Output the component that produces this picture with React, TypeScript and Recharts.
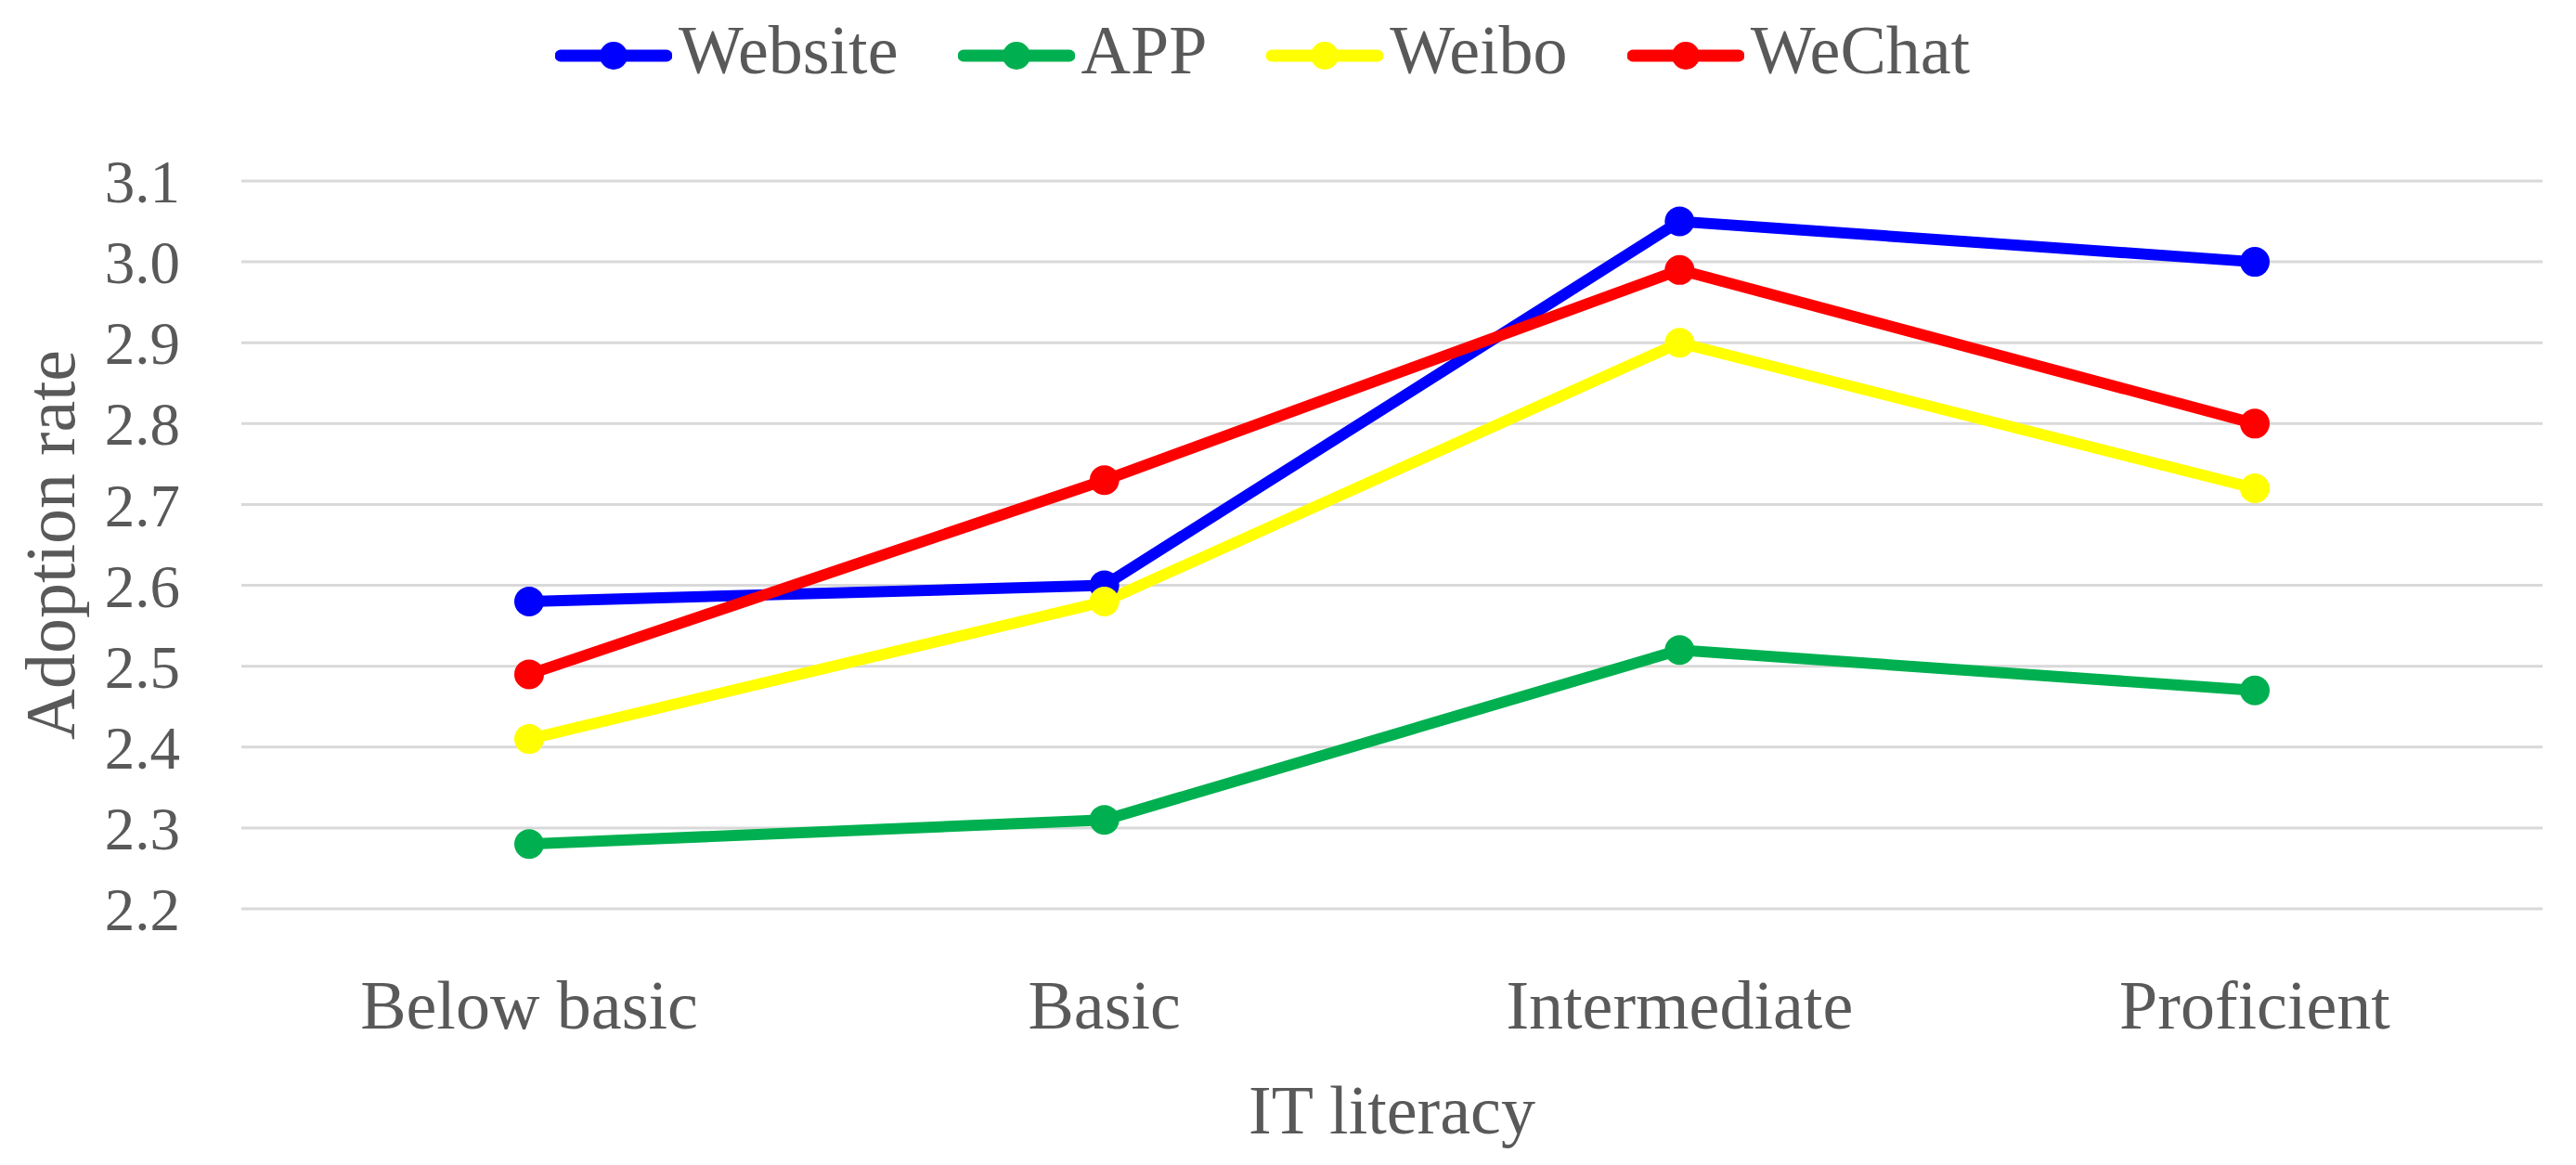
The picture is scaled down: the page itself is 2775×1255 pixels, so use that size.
import React from 'react';
import { LineChart, Line, XAxis, YAxis, CartesianGrid, Legend } from 'recharts';

const categories = ['Below basic', 'Basic', 'Intermediate', 'Proficient'];
const website = [2.58, 2.6, 3.05, 3.0];
const app = [2.28, 2.31, 2.52, 2.47];
const weibo = [2.41, 2.58, 2.9, 2.72];
const wechat = [2.49, 2.73, 2.99, 2.8];
const yTicks = [2.2, 2.3, 2.4, 2.5, 2.6, 2.7, 2.8, 2.9, 3.0, 3.1];

const seriesDefs = [
  { key: 'Website', color: '#0000FF', values: website },
  { key: 'APP', color: '#00B050', values: app },
  { key: 'Weibo', color: '#FFFF00', values: weibo },
  { key: 'WeChat', color: '#FF0000', values: wechat },
];

const data = categories.map((c, i) => {
  const row: Record<string, string | number> = { name: c };
  seriesDefs.forEach((s) => {
    row[s.key] = s.values[i];
  });
  return row;
});

const FONT = '"Liberation Serif", "Times New Roman", serif';
const TEXT = '#595959';

const LegendContent = (props: any) => {
  const payload = [...(props.payload || [])];
  const order = seriesDefs.map((s) => s.key);
  payload.sort((a: any, b: any) => order.indexOf(a.value) - order.indexOf(b.value));
  return (
    <div
      style={{
        display: 'flex',
        alignItems: 'center',
        height: 120,
        paddingLeft: 598,
        fontFamily: FONT,
        fontSize: 74,
        color: TEXT,
      }}
    >
      {payload.map((p: any, i: number) => (
        <div
          key={p.value}
          style={{ display: 'flex', alignItems: 'center', marginLeft: i === 0 ? 0 : 64 }}
        >
          <svg width={126} height={40} style={{ display: 'block' }}>
            <line x1={6} y1={20} x2={120} y2={20} stroke={p.color} strokeWidth={13} strokeLinecap="round" />
            <circle cx={63} cy={20} r={15} fill={p.color} />
          </svg>
          <span style={{ marginLeft: 7, lineHeight: 1, position: 'relative', top: -6 }}>{p.value}</span>
        </div>
      ))}
    </div>
  );
};

export default function App() {
  return (
    <div style={{ position: 'absolute', left: 0, top: 0, background: '#fff' }}>
      <LineChart
        width={2775}
        height={1255}
        data={data}
        margin={{ top: 75, right: 36, bottom: 0, left: 0 }}
      >
        <CartesianGrid vertical={false} stroke="#d9d9d9" strokeWidth={3} />
        <XAxis
          dataKey="name"
          padding={{ left: 310, right: 310 }}
          axisLine={false}
          tickLine={false}
          tickSize={0}
          tickMargin={76}
          height={276}
          tick={{ fill: TEXT, fontSize: 74, fontFamily: FONT }}
          label={{
            value: 'IT literacy',
            position: 'insideBottom',
            offset: 34,
            style: { fill: TEXT, fontSize: 74, fontFamily: FONT },
          }}
        />
        <YAxis
          domain={[2.2, 3.1]}
          ticks={yTicks}
          interval={0}
          tickFormatter={(v: number) => v.toFixed(1)}
          axisLine={false}
          tickLine={false}
          tickSize={0}
          tickMargin={66}
          width={260}
          tick={{ fill: TEXT, fontSize: 65, fontFamily: FONT }}
          label={{
            value: 'Adoption rate',
            angle: -90,
            position: 'insideLeft',
            offset: 53,
            style: { fill: TEXT, fontSize: 76, fontFamily: FONT, textAnchor: 'middle' },
          }}
        />
        <Legend
          verticalAlign="top"
          height={120}
          content={<LegendContent />}
          wrapperStyle={{ position: 'absolute', top: 0, left: 0, width: 2775, height: 120 }}
        />
        {seriesDefs.map((s) => (
          <Line
            key={s.key}
            type="linear"
            dataKey={s.key}
            stroke={s.color}
            strokeWidth={12}
            dot={{ r: 16, fill: s.color, stroke: s.color, strokeWidth: 0 }}
            activeDot={false}
            isAnimationActive={false}
          />
        ))}
      </LineChart>
    </div>
  );
}
